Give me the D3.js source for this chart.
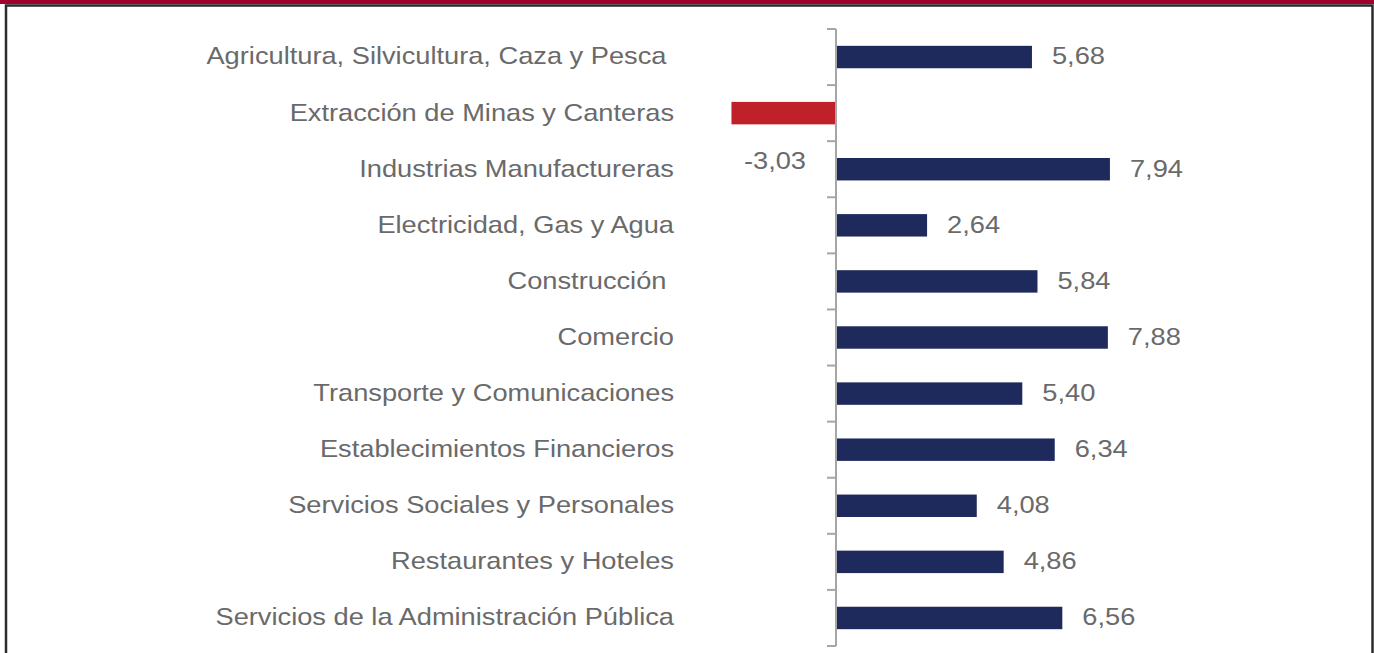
<!DOCTYPE html>
<html>
<head>
<meta charset="utf-8">
<script src="https://cdn.jsdelivr.net/npm/d3@7"></script>
<style>
  body { margin: 0; background: #fff; }
  svg { display: block; }
  text { font-family: "Liberation Sans", Arial, sans-serif; fill: #6a6a6a; white-space: pre; }
</style>
</head>
<body>
<div id="chart"></div>
<script>
const categories = [
  'Agricultura, Silvicultura, Caza y Pesca ',
  'Extracción de Minas y Canteras',
  'Industrias Manufactureras',
  'Electricidad, Gas y Agua',
  'Construcción ',
  'Comercio',
  'Transporte y Comunicaciones',
  'Establecimientos Financieros',
  'Servicios Sociales y Personales',
  'Restaurantes y Hoteles',
  'Servicios de la Administración Pública'
]
const values = [5.68, -3.03, 7.94, 2.64, 5.84, 7.88, 5.40, 6.34, 4.08, 4.86, 6.56]

const W = 1374
const H = 653
// the original text is drawn a bit wider than normal
const stretch = 1.135

const svg = d3.select('#chart').append('svg')
  .attr('width', W)
  .attr('height', H)

// frame: maroon band on top, dark border
svg.append('rect')
  .attr('x', 0).attr('y', 0).attr('width', W).attr('height', 4)
  .attr('fill', '#a0002e')
svg.append('rect')
  .attr('x', 6).attr('y', 5.5).attr('width', W - 7.5).attr('height', H)
  .attr('fill', 'none')
  .attr('stroke', '#2b2b2b')
  .attr('stroke-width', 2.5)

const x = d3.scaleLinear().domain([0, 1]).range([836, 870.5])

const y = d3.scaleBand()
  .domain(categories)
  .range([29, 646])
  .paddingInner(0.6)
  .paddingOuter(0.3)

const data = categories.map((c, i) => ({ cat: c, value: values[i] }))

svg.selectAll('.bar')
  .data(data)
  .enter().append('rect')
  .attr('class', 'bar')
  .attr('x', d => x(Math.min(0, d.value)))
  .attr('width', d => Math.abs(x(d.value) - x(0)))
  .attr('y', d => y(d.cat))
  .attr('height', y.bandwidth())
  .attr('fill', d => d.value < 0 ? '#c0202a' : '#1f2a5c')

// axis with ticks between categories
const step = y.step()
const tickYs = d3.range(categories.length + 1).map(i => 29 + i * step)
const axis = svg.append('g').attr('class', 'axis')
axis.append('line')
  .attr('x1', x(0)).attr('x2', x(0))
  .attr('y1', 29).attr('y2', 646)
  .attr('stroke', '#a6a6a6').attr('stroke-width', 2)
axis.selectAll('.tick')
  .data(tickYs)
  .enter().append('line')
  .attr('x1', x(0) - 9).attr('x2', x(0))
  .attr('y1', d => d).attr('y2', d => d)
  .attr('stroke', '#a6a6a6').attr('stroke-width', 2)

// category labels
svg.selectAll('.cat')
  .data(data)
  .enter().append('text')
  .attr('class', 'cat')
  .attr('transform', d => 'translate(674,' + (y(d.cat) + y.bandwidth() / 2) + ') scale(' + stretch + ',1)')
  .attr('dy', '0.31em')
  .attr('text-anchor', 'end')
  .attr('font-size', 24)
  .text(d => d.cat)

const fmt = v => d3.format('.2f')(v).replace('.', ',').replace('−', '-')

// value labels
svg.selectAll('.val')
  .data(data)
  .enter().append('text')
  .attr('class', 'val')
  .attr('transform', d => {
    const tx = d.value < 0 ? x(0) - 30 : x(d.value) + 20
    const ty = y(d.cat) + y.bandwidth() / 2 + (d.value < 0 ? 48 : 0)
    return 'translate(' + tx + ',' + ty + ') scale(' + stretch + ',1)'
  })
  .attr('dy', '0.31em')
  .attr('text-anchor', d => d.value < 0 ? 'end' : 'start')
  .attr('font-size', 24)
  .text(d => fmt(d.value))
</script>
</body>
</html>
